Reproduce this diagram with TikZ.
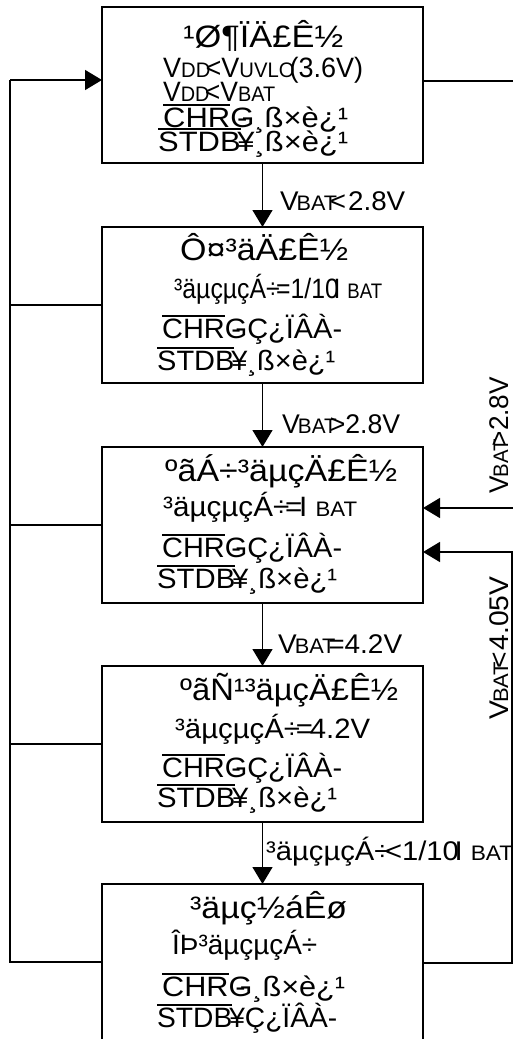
\documentclass[tikz,border=0pt]{standalone}
\usepackage{fontspec}
\setmainfont{Liberation Sans}
\usetikzlibrary{arrows.meta}
\newcommand\sm[1]{{\fontsize{21}{21}\selectfont #1}}
\newcommand\ovl[1]{\vbox{\hrule height 1.3pt\kern 1.8pt\hbox{#1}}}
\newcommand\gs{\ooalign{G\cr\hfil-\hfil\cr}}
\newcommand\fw[2]{\resizebox{#1pt}{\height}{#2}}
\tikzset{
  boxst/.style={draw, line width=1.8pt, minimum width=321pt, minimum height=156pt, inner sep=0pt, outer sep=0pt, anchor=north west},
  conn/.style={line width=1.4pt},
  arrtip/.style={-{Triangle[length=17pt,width=20pt]}},
  ttl/.style={anchor=base west, inner sep=0pt, font=\fontsize{31}{31}\selectfont},
  txt/.style={anchor=base west, inner sep=0pt, font=\fontsize{28}{28}\selectfont},
  lbl/.style={anchor=base west, inner sep=0pt, font=\fontsize{27}{27}\selectfont},
  rlbl/.style={anchor=base, rotate=90, inner sep=0pt, font=\fontsize{27}{27}\selectfont},
}
\begin{document}
\begin{tikzpicture}[x=1pt,y=-1pt]
\useasboundingbox (0,0) rectangle (513,1039);
\begin{scope}
\clip (0,0) rectangle (513,1039);
% boxes
\node[boxst] (b1) at (102,7) {};
\node[boxst] (b2) at (102,227) {};
\node[boxst] (b3) at (102,447) {};
\node[boxst] (b4) at (102,666) {};
\node[boxst] (b5) at (102,884) {};
% box 1 text
\node[ttl] (b1a) at (183,47) {\fw{160}{¹Ø¶ÏÄ£Ê½}};
\node[txt] (b1b) at (163,77) {\fw{200}{V\sm{DD}\kern-5pt<V\sm{UVLO}\kern-5pt(3.6V)}};
\node[txt] (b1c) at (163,101) {\fw{112}{V\sm{DD}\kern-5pt<V\sm{BAT}}};
\node[txt] (b1d) at (163,127) {\fw{185}{\ovl{CHR}\gs{}¸ß×è¿¹}};
\node[txt] (b1e) at (158,151) {\fw{190}{\ovl{STDB}\kern-3pt¥¸ß×è¿¹}};
% box 2 text
\node[ttl] (b2a) at (180,260) {\fw{168}{Ô¤³äÄ£Ê½}};
\node[txt] (b2b) at (174,298) {\fw{208}{³äµçµçÁ÷\kern-4pt=1/10\kern-6ptI \sm{BAT}}};
\node[txt] (b2c) at (162,338) {\fw{180}{\ovl{CHR}\gs{}Ç¿ÏÂÀ-}};
\node[txt] (b2d) at (157,370) {\fw{178}{\ovl{STDB}\kern-3pt¥¸ß×è¿¹}};
% box 3 text
\node[ttl] (b3a) at (165,481) {\fw{232}{ºãÁ÷³äµçÄ£Ê½}};
\node[txt] (b3b) at (163,516) {\fw{194}{³äµçµçÁ÷\kern-4pt=\kern-3ptI \sm{BAT}}};
\node[txt] (b3c) at (162,557) {\fw{180}{\ovl{CHR}\gs{}Ç¿ÏÂÀ-}};
\node[txt] (b3d) at (157,588) {\fw{180}{\ovl{STDB}\kern-3pt¥¸ß×è¿¹}};
% box 4 text
\node[ttl] (b4a) at (180,700) {\fw{218}{ºãÑ¹³äµçÄ£Ê½}};
\node[txt] (b4b) at (175,738) {\fw{195}{³äµçµçÁ÷\kern-4pt=\kern-3pt4.2V}};
\node[txt] (b4c) at (162,777) {\fw{180}{\ovl{CHR}\gs{}Ç¿ÏÂÀ-}};
\node[txt] (b4d) at (157,807) {\fw{180}{\ovl{STDB}\kern-3pt¥¸ß×è¿¹}};
% box 5 text
\node[ttl] (b5a) at (190,918) {\fw{157}{³äµç½áÊø}};
\node[txt] (b5b) at (172,954) {\fw{145}{ÎÞ³äµçµçÁ÷}};
\node[txt] (b5c) at (162,996) {\fw{183}{\ovl{CHR}\gs{}¸ß×è¿¹}};
\node[txt] (b5d) at (157,1027) {\fw{180}{\ovl{STDB}\kern-3pt¥Ç¿ÏÂÀ-}};
% down connectors
\draw[conn,arrtip] (b1.south) -- (b2.north);
\draw[conn,arrtip] (b2.south) -- (b3.north);
\draw[conn,arrtip] (b3.south) -- (b4.north);
\draw[conn,arrtip] (b4.south) -- (b5.north);
\node[lbl] (l1) at (280,210) {\fw{125}{V\kern-2pt\sm{BAT}\kern-7pt<\kern2pt2.8V}};
\node[lbl] (l2) at (282,433) {\fw{118}{V\kern-2pt\sm{BAT}\kern-7pt>2.8V}};
\node[lbl] (l3) at (278,653) {\fw{124}{V\kern-2pt\sm{BAT}\kern-7pt=4.2V}};
\node[lbl] (l4) at (266,860) {\fw{247}{³äµçµçÁ÷\kern-5pt<1/10\kern-4ptI \sm{BAT}}};
% left loop
\coordinate (lt) at (10,80);
\coordinate (lb) at (10,962);
\draw[conn] (b5.west) -- (lb) -- (lt);
\draw[conn,arrtip] (lt) -- (lt -| b1.west);
\draw[conn] (b2.west) -- (b2.west -| lt);
\draw[conn] (b3.west) -- (b3.west -| lt);
\draw[conn] (b4.west) -- (b4.west -| lt);
% right loops
\coordinate (r1t) at (520,81);
\coordinate (r1b) at (520,508);
\draw[conn,arrtip] (r1t -| b1.east) -- (r1t) -- (r1b) -- (r1b -| b3.east);
\coordinate (r2t) at (512,552);
\coordinate (r2b) at (512,963);
\draw[conn,arrtip] (r2b -| b5.east) -- (r2b) -- (r2t) -- (r2t -| b3.east);
\node[rlbl] (rl1) at (508,435) {\fw{116}{V\kern-2pt\sm{BAT}\kern-7pt>2.8V}};
\node[rlbl] (rl2) at (508,648) {\fw{143}{V\kern-2pt\sm{BAT}\kern-7pt<\kern2pt4.05V}};
\end{scope}
\end{tikzpicture}
\end{document}
